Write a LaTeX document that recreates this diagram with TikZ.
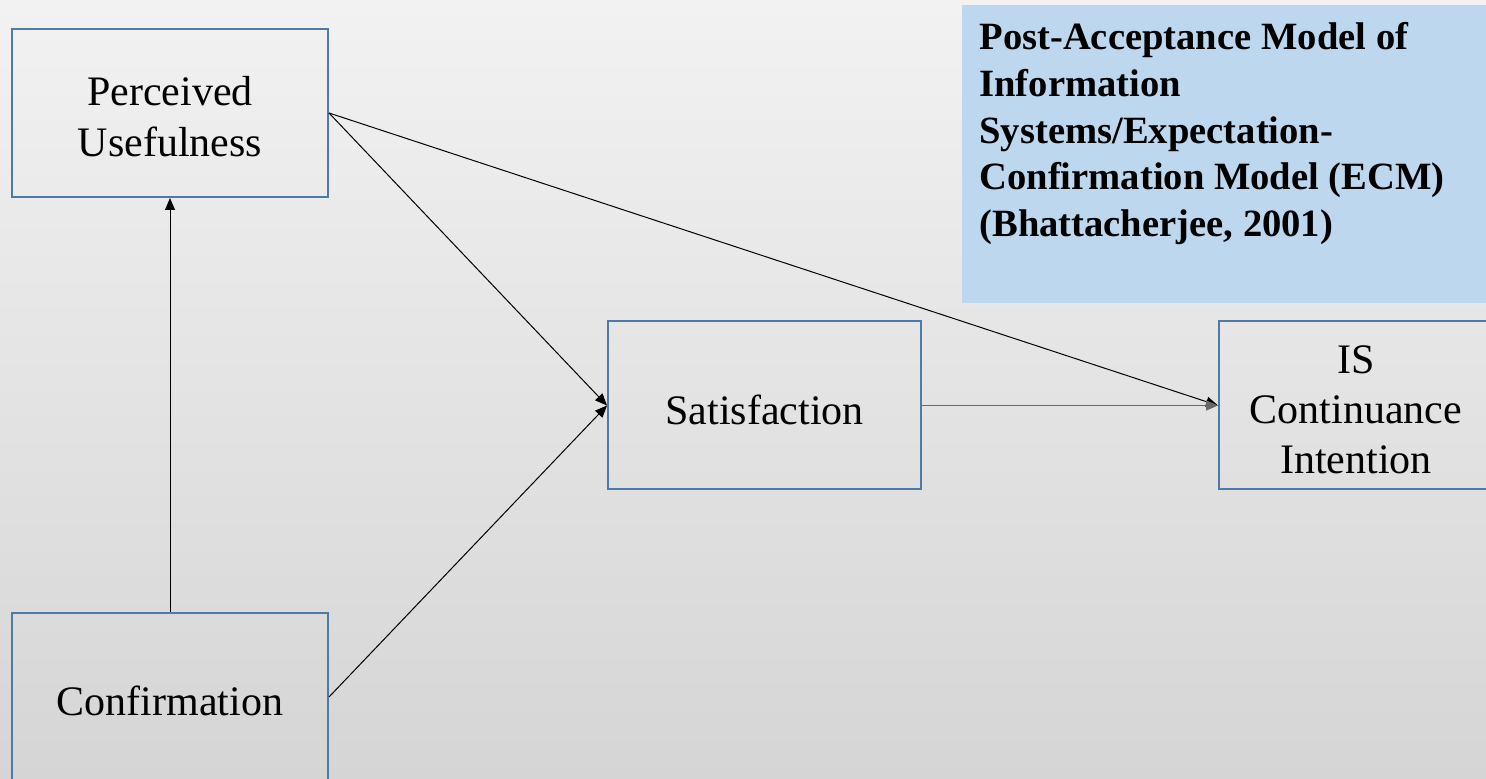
\documentclass[tikz,border=0pt]{standalone}
\usepackage{fontspec}
\setmainfont{Liberation Serif}
\usetikzlibrary{arrows.meta}
\definecolor{boxblue}{RGB}{79,122,168}
\definecolor{notefill}{RGB}{189,215,238}
\definecolor{bgtop}{RGB}{242,242,242}
\definecolor{bgbot}{RGB}{213,213,213}
\definecolor{linegray}{RGB}{105,105,105}
\tikzset{
  concept/.style={draw=boxblue, line width=1pt, minimum width=158pt, minimum height=84pt, inner sep=2pt},
  conceptlabel/.style={align=center, inner sep=0pt, yshift=-2pt, font=\fontsize{21}{25.5}\selectfont},
  link/.style={line width=0.5pt, -{Triangle[length=6pt,width=5pt]}},
}
\begin{document}
\begin{tikzpicture}[x=0.5pt,y=-0.5pt]
\useasboundingbox (0,0) rectangle (1486,779);
\clip (0,0) rectangle (1486,779);
\shade[top color=bgtop, bottom color=bgbot] (0,0) rectangle (1486,779);
\fill[notefill] (962,5) rectangle (1500,303);
\node[anchor=north west, align=left, inner sep=0pt, font=\fontsize{19.3}{23.4}\selectfont\bfseries] (note) at (979,22)
  {Post-Acceptance Model of\\Information\\Systems/Expectation-\\Confirmation Model (ECM)\\(Bhattacherjee, 2001)};
\node[concept, label={[conceptlabel]center:{Perceived\\Usefulness}}] (pu) at (170,113) {};
\node[concept, label={[conceptlabel]center:{Confirmation}}] (conf) at (170,697) {};
\node[concept, minimum width=156.5pt, label={[conceptlabel]center:{Satisfaction}}] (sat) at (764.5,405.5) {};
\node[concept, minimum width=137pt, label={[conceptlabel, font=\fontsize{21}{25}\selectfont]center:{IS\\Continuance\\Intention}}] (is) at (1356,405.5) {};
\draw[link] (conf.north) -- (pu.south);
\draw[link] (pu.east) -- (sat.west);
\draw[link] (conf.east) -- (sat.west);
\draw[link] (pu.east) -- (is.west);
\draw[link, draw=linegray, line width=0.8pt] (sat.east) -- (is.west);
\end{tikzpicture}
\end{document}
